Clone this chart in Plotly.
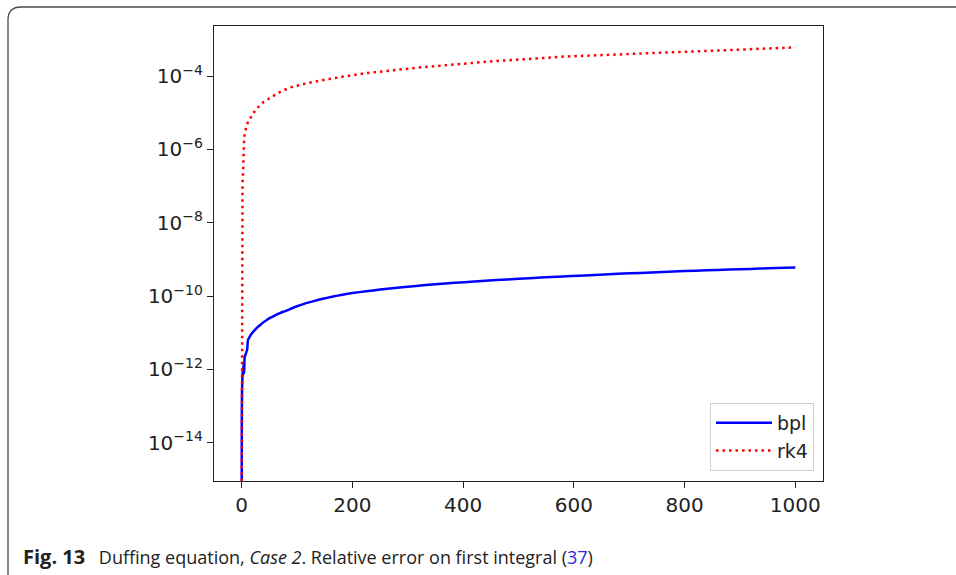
import plotly.graph_objects as go

# ---- data (errors stored as log10 readings) ----
t_bpl = [0, 0.2, 0.6, 1.2, 2.0, 2.8, 3.6, 4.5, 5.4, 7, 9, 10, 11.4, 14.5, 17, 20, 23, 26.5,
         30, 35, 40, 44.6, 52, 60, 67, 75, 82, 90, 100, 115, 130, 147, 165, 182, 200,
         225, 250, 285, 315, 350, 385, 420, 460, 500, 540, 580, 610, 647, 680, 720, 760,
         800, 840, 880, 920, 950, 1000]
log10_err_bpl = [-17, -13.5, -12.6, -12.3, -11.95, -12.15, -11.85, -12.1, -11.66, -11.6,
                 -11.5, -11.45, -11.2, -11.11, -11.05, -10.99, -10.94, -10.88, -10.83,
                 -10.77, -10.71, -10.66, -10.59, -10.53, -10.48, -10.43, -10.39, -10.34,
                 -10.28, -10.2, -10.14, -10.075, -10.015, -9.965, -9.92, -9.87, -9.825,
                 -9.77, -9.725, -9.68, -9.64, -9.605, -9.565, -9.53, -9.495, -9.465,
                 -9.445, -9.42, -9.395, -9.37, -9.345, -9.32, -9.3, -9.28, -9.26, -9.245,
                 -9.22]

t_rk4 = [0, 0.3, 0.8, 1.5, 2.4, 3.2, 4.2, 5.4, 7, 9, 12, 15.5, 20, 29, 40, 55, 70, 88,
         120, 154, 220, 319, 451, 583, 680, 781, 890, 1000]
log10_err_rk4 = [-17, -7.9, -7.4, -6.95, -6.65, -6.1, -5.8, -5.56, -5.45, -5.36, -5.22,
                 -5.16, -5.03, -4.86, -4.70, -4.56, -4.43, -4.31, -4.19, -4.09, -3.93,
                 -3.77, -3.60, -3.47, -3.41, -3.35, -3.28, -3.22]

err_bpl = [10.0 ** v for v in log10_err_bpl]
err_rk4 = [10.0 ** v for v in log10_err_rk4]

x_ticks = [0, 200, 400, 600, 800, 1000]
y_tick_exps = [-14, -12, -10, -8, -6, -4]
y_tick_vals = [10.0 ** e for e in y_tick_exps]
y_tick_text = ["10<sup>\u2212%d</sup>" % (-e) for e in y_tick_exps]

series_names = ["bpl", "rk4"]

# ---- layout geometry (pixels) ----
W, H = 956, 575
L, R, T, B = 214, 823, 26, 481
pw, ph = R - L, B - T


def px(x):
    return (x - L) / pw


def py(y):
    return (B - y) / ph


fig = go.Figure()
fig.add_trace(go.Scatter(x=t_bpl, y=err_bpl, mode="lines", name=series_names[0],
                         line=dict(color="#0000ff", width=2.5, shape="spline",
                                   smoothing=0.6)))
fig.add_trace(go.Scatter(x=t_rk4, y=err_rk4, mode="lines", name=series_names[1],
                         line=dict(color="#ff0000", width=2.5, dash="2.5px,4px")))

axis_common = dict(showline=True, linecolor="#222222", linewidth=1.2, mirror=True,
                   ticks="outside", ticklen=6, tickwidth=1.2, tickcolor="#222222",
                   showgrid=False, zeroline=False,
                   tickfont=dict(family="DejaVu Sans", size=20, color="#222222"))

fig.update_xaxes(range=[-50, 1050], tickvals=x_ticks, **axis_common)
fig.update_yaxes(type="log", range=[-15.045, -2.636], tickvals=y_tick_vals,
                 ticktext=y_tick_text, **axis_common)

# rounded frame around the figure (extends past right/bottom edges)
x0, y0, x1, y1, r = 8, 7, 975, 590, 13
path = (f"M {px(x0)},{py(y0 + r)} Q {px(x0)},{py(y0)} {px(x0 + r)},{py(y0)} "
        f"L {px(x1)},{py(y0)} L {px(x1)},{py(y1)} L {px(x0 + r)},{py(y1)} "
        f"Q {px(x0)},{py(y1)} {px(x0)},{py(y1 - r)} Z")
fig.add_shape(type="path", path=path, xref="paper", yref="paper",
              line=dict(color="#4a4a4a", width=1.3), layer="below")

caption = ("<span style='font-size:20px'><b>Fig. 13</b></span>\u2002 Duffing equation, "
           "<i>Case 2</i>. Relative error on first "
           "integral (<span style='color:#2a2ae0'>37</span>)")
fig.add_annotation(text=caption, xref="paper", yref="paper", x=px(21), y=py(556),
                   xanchor="left", yanchor="middle", showarrow=False,
                   font=dict(family="Open Sans", size=18, color="#222222"))

fig.update_layout(
    width=W, height=H,
    margin=dict(l=L, r=W - R, t=T, b=H - B),
    paper_bgcolor="white", plot_bgcolor="white",
    showlegend=True,
    legend=dict(x=px(814), y=py(471), xanchor="right", yanchor="bottom",
                bgcolor="white", bordercolor="#d0d0d0", borderwidth=1,
                itemwidth=56,
                font=dict(family="DejaVu Sans", size=19, color="#222222"),
                tracegroupgap=2),
)

fig.write_html("out.html")
